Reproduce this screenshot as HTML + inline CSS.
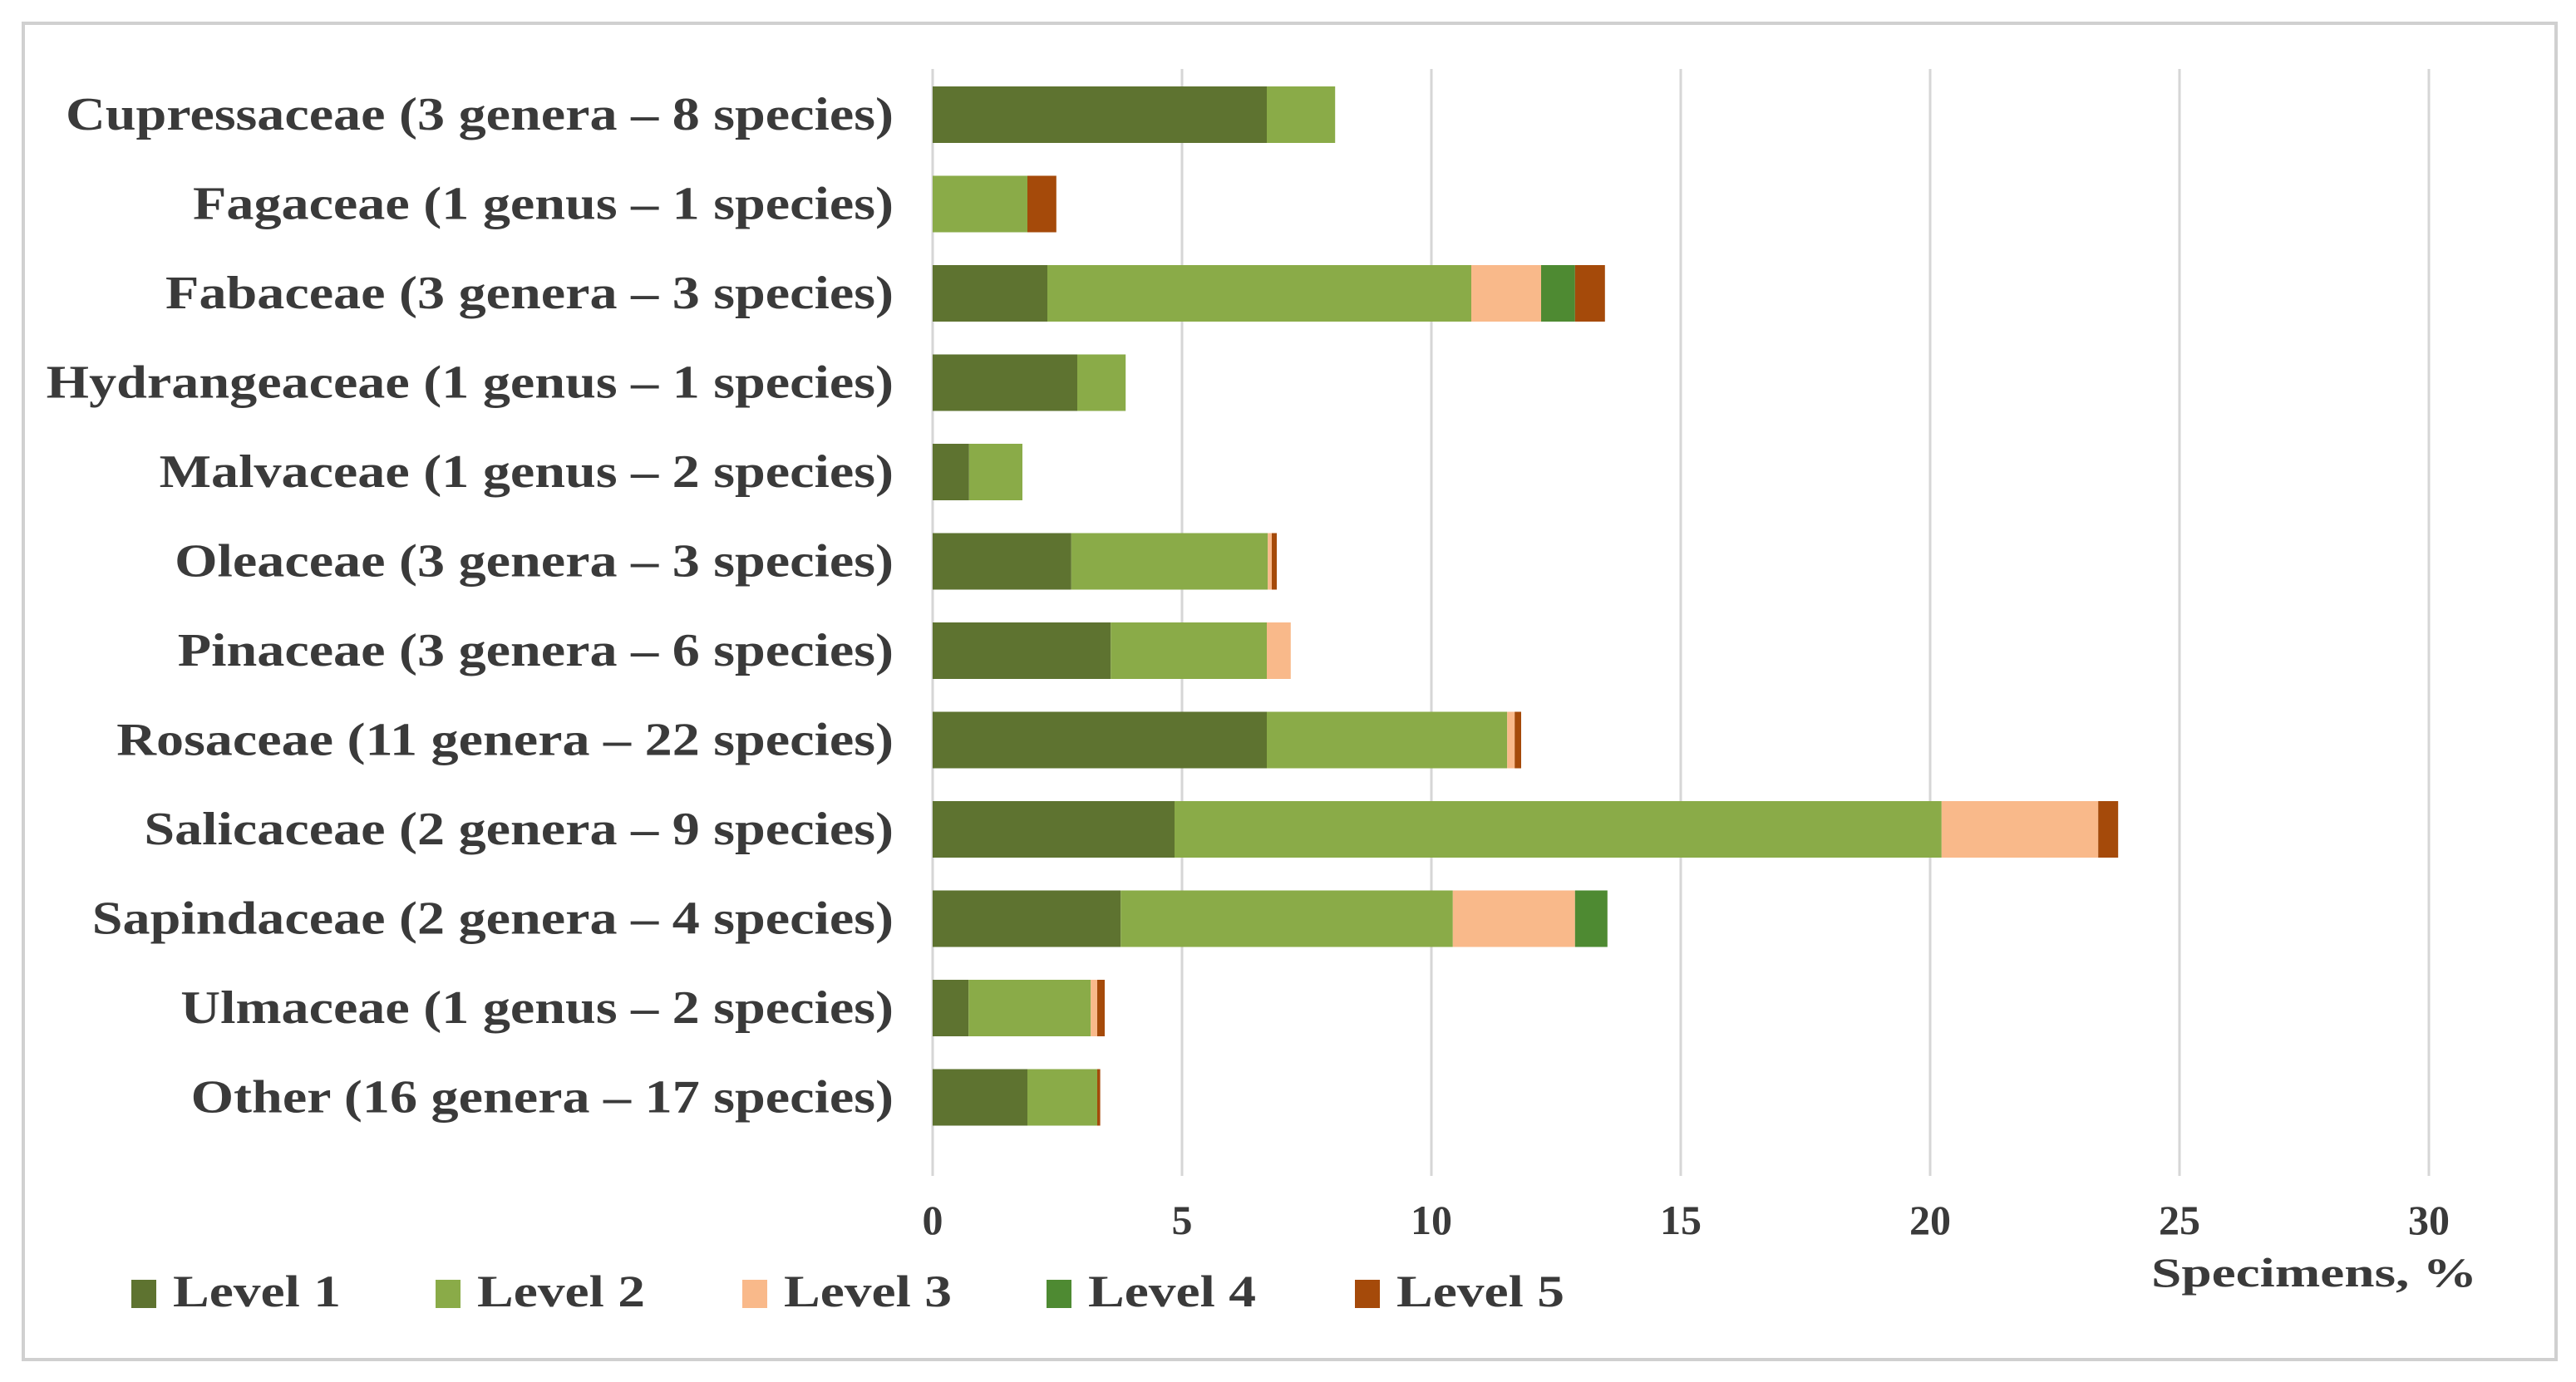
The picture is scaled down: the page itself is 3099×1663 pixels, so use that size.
<!DOCTYPE html>
<html><head><meta charset="utf-8">
<style>
html,body{margin:0;padding:0;background:#fff;}
svg{display:block;}
text{font-family:"Liberation Serif",serif;fill:#3a3a3a;font-weight:bold;}
</style></head>
<body>
<svg id="chart" width="3099" height="1663" viewBox="0 0 3099 1663" xmlns="http://www.w3.org/2000/svg">
<rect x="28" y="28" width="3047" height="1608" fill="#fff" stroke="#d0d0d0" stroke-width="4"/>
<g id="grid"></g>
<g id="bars"></g>
<g id="ylabels"></g>
<g id="xticks"></g>
<text id="xtitle" x="2980" y="1548" font-size="50" text-anchor="end">Specimens, %</text>
<g id="legend"></g>
</svg>
<script>
const categories = ["Cupressaceae (3 genera – 8 species)","Fagaceae (1 genus – 1 species)","Fabaceae (3 genera – 3 species)","Hydrangeaceae (1 genus – 1 species)","Malvaceae (1 genus – 2 species)","Oleaceae (3 genera – 3 species)","Pinaceae (3 genera – 6 species)","Rosaceae (11 genera – 22 species)","Salicaceae (2 genera – 9 species)","Sapindaceae (2 genera – 4 species)","Ulmaceae (1 genus – 2 species)","Other (16 genera – 17 species)"];
const level1 = [6.7, 0, 2.3, 2.9, 0.73, 2.78, 3.57, 6.7, 4.85, 3.77, 0.72, 1.9];
const level2 = [1.37, 1.9, 8.5, 0.97, 1.07, 3.94, 3.13, 4.82, 15.38, 6.66, 2.45, 1.4];
const level3 = [0, 0, 1.4, 0, 0, 0.08, 0.48, 0.15, 3.14, 2.45, 0.13, 0];
const level4 = [0, 0, 0.68, 0, 0, 0, 0, 0, 0, 0.65, 0, 0];
const level5 = [0, 0.58, 0.6, 0, 0, 0.1, 0, 0.13, 0.4, 0, 0.15, 0.06];
const seriesNames = ["Level 1","Level 2","Level 3","Level 4","Level 5"];
const xTicks = [0,5,10,15,20,25,30];

const colors = ["#5e7330","#8aab48","#f9b98a","#4e8a32","#a54a0a"];
const series = [level1, level2, level3, level4, level5];
const NS = "http://www.w3.org/2000/svg";
const x0 = 1122, pxPerUnit = 60;
const xScale = v => x0 + v * pxPerUnit;
const yTop = 138, yStep = 107.5, barH = 68;
const yScale = i => yTop + i * yStep;
function stretch(el, f){
  const len = el.getComputedTextLength();
  el.setAttribute('textLength', len * f);
  el.setAttribute('lengthAdjust', 'spacingAndGlyphs');
}

const grid = document.getElementById('grid');
const xt = document.getElementById('xticks');
xTicks.forEach(t => {
  const l = document.createElementNS(NS,'line');
  l.setAttribute('x1', xScale(t)); l.setAttribute('x2', xScale(t));
  l.setAttribute('y1', 83); l.setAttribute('y2', 1415);
  l.setAttribute('stroke', '#d6d6d6'); l.setAttribute('stroke-width', 3);
  
  
  grid.appendChild(l);
  const tx = document.createElementNS(NS,'text');
  tx.setAttribute('x', xScale(t)); tx.setAttribute('y', 1485);
  tx.setAttribute('font-size', 50); tx.setAttribute('text-anchor', 'middle');
  tx.textContent = t;
  
  
  xt.appendChild(tx);
});

const bars = document.getElementById('bars');
const yl = document.getElementById('ylabels');
const labelEls = [];
categories.forEach((c, i) => {
  let acc = 0;
  series.forEach((s, k) => {
    const v = s[i];
    if (v > 0) {
      const r = document.createElementNS(NS,'rect');
      r.setAttribute('x', xScale(acc));
      r.setAttribute('width', xScale(acc + v) - xScale(acc));
      r.setAttribute('y', yScale(i) - barH/2);
      r.setAttribute('height', barH);
      r.setAttribute('fill', colors[k]);
      
      
      bars.appendChild(r);
    }
    acc += v;
  });
  const t = document.createElementNS(NS,'text');
  t.setAttribute('x', 1075); t.setAttribute('y', yScale(i) + 18);
  t.setAttribute('font-size', 56); t.setAttribute('text-anchor', 'end');
  t.textContent = c;
  
  
  yl.appendChild(t);
  labelEls.push(t);
});
const f = 996 / labelEls[0].getComputedTextLength();
labelEls.forEach(el => stretch(el, f));

const legX = [158, 524, 893, 1259, 1630];
const lg = document.getElementById('legend');
seriesNames.forEach((n, k) => {
  const r = document.createElementNS(NS,'rect');
  r.setAttribute('x', legX[k]); r.setAttribute('y', 1540);
  r.setAttribute('width', 30); r.setAttribute('height', 34);
  r.setAttribute('fill', colors[k]);
  
  
  lg.appendChild(r);
  const t = document.createElementNS(NS,'text');
  t.setAttribute('x', legX[k] + 50); t.setAttribute('y', 1572);
  t.setAttribute('font-size', 54);
  t.textContent = n;
  
  
  lg.appendChild(t);
  stretch(t, 202 / t.getComputedTextLength());
});
const xtitle = document.getElementById('xtitle');
stretch(xtitle, 392 / xtitle.getComputedTextLength());
</script>
</body></html>
